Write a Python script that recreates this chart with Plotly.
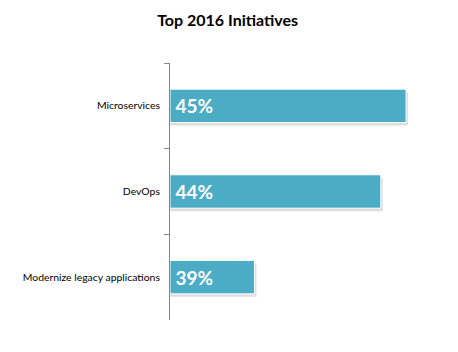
import plotly.graph_objects as go

categories = ["Microservices", "DevOps", "Modernize legacy applications"]
values = [45, 44, 39]
labels = ["45%", "44%", "39%"]

axis_start = 35.66
bar_w = 0.39

fig = go.Figure()
# soft drop shadow behind each bar
fig.add_trace(go.Bar(
    y=categories, x=[v - axis_start + 0.08 for v in values], orientation="h",
    base=axis_start,
    marker=dict(color="rgba(0,0,0,0.13)", line=dict(width=0)),
    width=bar_w, offset=-bar_w / 2 + 0.035, hoverinfo="skip",
))
fig.add_trace(go.Bar(
    y=categories, x=[v - axis_start for v in values], orientation="h",
    base=axis_start,
    marker=dict(color="#4BACC6", line=dict(color="white", width=1)),
    text=["&#8201;" + l for l in labels], textposition="inside", insidetextanchor="start",
    textfont=dict(family="Lato", size=19, color="white", weight="bold"),
    width=bar_w, offset=-bar_w / 2,
))
fig.update_layout(
    width=458, height=352, barmode="overlay",
    margin=dict(l=170, r=18, t=63, b=32),
    paper_bgcolor="white", plot_bgcolor="white",
    title=dict(text="<b>Top 2016 Initiatives</b>", x=0.497, xanchor="center", y=0.943, yanchor="middle",
               font=dict(family="Lato", size=16, color="black")),
    showlegend=False,
    xaxis=dict(range=[axis_start, 46.34], visible=False),
    yaxis=dict(categoryorder="array", categoryarray=categories, autorange="reversed",
               showline=True, linecolor="#868686", linewidth=1,
               ticks="outside", tickson="boundaries", ticklen=5, tickcolor="#868686",
               tickfont=dict(family="Lato", size=10.4, color="black"),
               showgrid=False, zeroline=False, ticklabelstandoff=7),
)
fig.write_html("out.html")
